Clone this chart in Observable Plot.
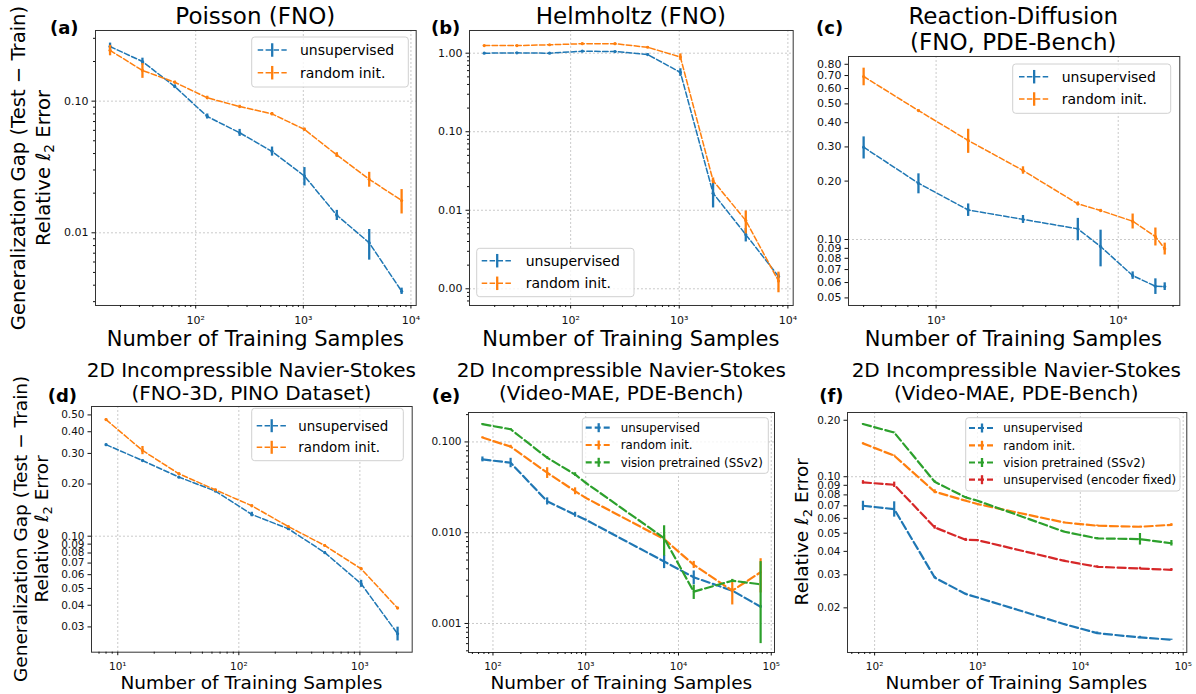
<!DOCTYPE html>
<html><head><meta charset="utf-8">
<script src="https://cdn.jsdelivr.net/npm/d3@7"></script>
<script src="https://cdn.jsdelivr.net/npm/@observablehq/plot@0.6"></script>
<style>
body{margin:0;background:#fff;}
#fig{position:relative;width:1196px;height:694px;overflow:hidden;background:#fff;font-family:"DejaVu Sans",sans-serif;}
</style></head><body><div id="fig"></div>
<script>
// ---------------- data ----------------
const seriesNames = ["unsupervised", "random init.", "vision pretrained (SSv2)", "unsupervised (encoder fixed)"];

// (a) Poisson (FNO)
const poissonN = [16, 32, 64, 128, 256, 512, 1024, 2048, 4096, 8192];
const poissonUnsup = [0.26, 0.20, 0.129, 0.0765, 0.0575, 0.0415, 0.027, 0.0136, 0.0084, 0.0036];
const poissonUnsupErr = [0.016, 0.012, 0.004, 0.0034, 0.0035, 0.0033, 0.0043, 0.0012, 0.0022, 0.0002];
const poissonRand = [0.243, 0.171, 0.139, 0.106, 0.091, 0.080, 0.061, 0.039, 0.0255, 0.0176];
const poissonRandErr = [0.022, 0.022, 0.003, 0.003, 0.002, 0.002, 0.0015, 0.0016, 0.0033, 0.0037];

// (b) Helmholtz (FNO)
const helmN = [16, 32, 64, 128, 256, 512, 1024, 2048, 4096, 8192];
const helmUnsup = [1.00, 1.01, 1.00, 1.06, 1.05, 0.96, 0.57, 0.0165, 0.0049, 0.00144];
const helmUnsupErr = [0.01, 0.01, 0.01, 0.01, 0.01, 0.02, 0.064, 0.0058, 0.00095, 0.0001];
const helmRand = [1.25, 1.25, 1.28, 1.32, 1.32, 1.19, 0.895, 0.0238, 0.0074, 0.00126];
const helmRandErr = [0.01, 0.01, 0.01, 0.02, 0.02, 0.02, 0.085, 0.002, 0.0024, 0.00037];

// (c) Reaction-Diffusion (FNO, PDE-Bench)
const rdN = [400, 800, 1500, 3000, 6000, 8000, 12000, 16000, 18000];
const rdUnsup = [0.299, 0.195, 0.142, 0.127, 0.1135, 0.092, 0.0652, 0.0574, 0.0572];
const rdUnsupErr = [0.039, 0.023, 0.0105, 0.006, 0.015, 0.0197, 0.0029, 0.0053, 0.0026];
const rdRand = [0.692, 0.462, 0.324, 0.227, 0.1527, 0.141, 0.1243, 0.1036, 0.0895];
const rdRandErr = [0.072, 0.005, 0.046, 0.010, 0.0035, 0.002, 0.011, 0.011, 0.0063];

// (d) 2D NS (FNO-3D, PINO Dataset)
const nsPinoN = [8, 16, 32, 64, 128, 256, 512, 1024, 2048];
const nsPinoUnsup = [0.337, 0.273, 0.219, 0.182, 0.1334, 0.1104, 0.0805, 0.0532, 0.0274];
const nsPinoUnsupErr = [0.003, 0.003, 0.002, 0.003, 0.004, 0.002, 0.001, 0.0025, 0.0025];
const nsPinoRand = [0.47, 0.312, 0.229, 0.185, 0.1497, 0.1137, 0.0884, 0.0649, 0.0385];
const nsPinoRandErr = [0.005, 0.017, 0.003, 0.002, 0.002, 0.001, 0.001, 0.001, 0.0005];

// (e) 2D NS (Video-MAE, PDE-Bench), generalization gap
const vmaeN = [77, 155, 384, 768, 1000, 7000, 14600, 38000, 76800];
const gapUnsup = [0.0643, 0.059, 0.0222, 0.0158, 0.0139, 0.00482, 0.00323, 0.0023, 0.00153];
const gapUnsupErr = [0.004, 0.007, 0.002, 0.001, 0.0002, 0.0008, 0.00056, 0.0001, 0.00005];
const gapRand = [0.1117, 0.0888, 0.0458, 0.0287, 0.0242, 0.0085, 0.00443, 0.0023, 0.00367];
const gapRandErr = [0.002, 0.003, 0.0062, 0.0025, 0.0003, 0.0009, 0.0004, 0.0007, 0.0015];
const gapVision = [0.157, 0.138, 0.067, 0.0438, 0.0355, 0.00873, 0.00224, 0.00296, 0.0027];
const gapVisionErr = [0.002, 0.002, 0.002, 0.002, 0.0003, 0.0032, 0.0004, 0.0001, 0.0021];

// (f) 2D NS (Video-MAE, PDE-Bench), relative error
const errUnsup = [0.070, 0.0672, 0.029, 0.0237, 0.0227, 0.01636, 0.01466, 0.0139, 0.01352];
const errUnsupErr = [0.004, 0.0063, 0.0004, 0.0002, 0.0001, 0.0001, 0.0002, 0.0002, 0.0001];
const errRand = [0.1506, 0.1295, 0.0832, 0.0745, 0.0715, 0.057, 0.0548, 0.0541, 0.0554];
const errRandErr = [0.001, 0.001, 0.002, 0.0005, 0.0003, 0.0003, 0.0005, 0.0003, 0.0008];
const errVision = [0.191, 0.172, 0.094, 0.0776, 0.0745, 0.0509, 0.0469, 0.0465, 0.0442];
const errVisionErr = [0.001, 0.001, 0.001, 0.0008, 0.0003, 0.0003, 0.0005, 0.0033, 0.0015];
const errEncFixed = [0.0933, 0.0906, 0.0537, 0.0461, 0.0459, 0.0356, 0.0331, 0.0324, 0.0319];
const errEncFixedErr = [0.002, 0.003, 0.0012, 0.0008, 0.0003, 0.0003, 0.0004, 0.0005, 0.0005];

// tick values
const aXTicks = [100, 1000, 10000], aYTicks = [0.01, 0.1];
const bXTicks = [100, 1000, 10000], bYTicks = [0.001, 0.01, 0.1, 1];
const cXTicks = [1000, 10000], cYTicks = [0.05, 0.06, 0.07, 0.08, 0.09, 0.1, 0.2, 0.3, 0.4, 0.5, 0.6, 0.7, 0.8];
const dXTicks = [10, 100, 1000], dYTicks = [0.03, 0.04, 0.05, 0.06, 0.07, 0.08, 0.09, 0.1, 0.2, 0.3, 0.4, 0.5];
const eXTicks = [100, 1000, 10000, 100000], eYTicks = [0.001, 0.01, 0.1];
const fXTicks = [100, 1000, 10000, 100000], fYTicks = [0.02, 0.03, 0.04, 0.05, 0.06, 0.07, 0.08, 0.09, 0.1, 0.2];

// titles / labels
const titles = ["Poisson (FNO)", "Helmholtz (FNO)", ["Reaction-Diffusion", "(FNO, PDE-Bench)"],
  ["2D Incompressible Navier-Stokes", "(FNO-3D, PINO Dataset)"],
  ["2D Incompressible Navier-Stokes", "(Video-MAE, PDE-Bench)"],
  ["2D Incompressible Navier-Stokes", "(Video-MAE, PDE-Bench)"]];
const panelLetters = ["(a)", "(b)", "(c)", "(d)", "(e)", "(f)"];
const xLabel = "Number of Training Samples";
const yLabelGap = "Generalization Gap (Test \u2212 Train)";

// ---------------- helpers ----------------
const C = {blue: "#1f77b4", orange: "#ff7f0e", green: "#2ca02c", red: "#d62728"};
const sup = {0: "\u2070", 1: "\u00b9", 2: "\u00b2", 3: "\u00b3", 4: "\u2074", 5: "\u2075"};
const supFmt = v => "10" + sup[Math.round(Math.log10(v))];

function minorTicks(domain, majors) {
  const out = [];
  const lo = Math.floor(Math.log10(domain[0])), hi = Math.ceil(Math.log10(domain[1]));
  for (let k = lo; k <= hi; k++) for (let m = 1; m <= 9; m++) {
    const v = m * Math.pow(10, k);
    if (v >= domain[0] && v <= domain[1] && !majors.some(t => Math.abs(t - v) / v < 1e-6)) out.push(v);
  }
  return out;
}

const fig = document.getElementById("fig");

function drawPanel(cfg) {
  const ml = 62, mr = 14, mt = 14, mb = 34;
  const [L, T, R, B] = cfg.box;
  const w = R - L, h = B - T;
  const gridStyle = {stroke: "#b0b0b0", strokeOpacity: 0.85, strokeWidth: 0.8, strokeDasharray: "2,2"};
  const yf = d3.format(cfg.yFmt);
  const marks = [
    Plot.gridX(cfg.xGrid, gridStyle),
    Plot.gridY(cfg.yGrid, gridStyle)
  ];
  for (const s of cfg.series) {
    const rows = cfg.n.map((x, i) => ({x, y: s.y[i], lo: s.y[i] - s.err[i], hi: s.y[i] + s.err[i]}));
    marks.push(Plot.line(rows, {x: "x", y: "y", stroke: s.color, strokeWidth: cfg.lw, strokeDasharray: cfg.dash}));
    marks.push(Plot.ruleX(rows, {x: "x", y1: "lo", y2: "hi", stroke: s.color, strokeWidth: cfg.ew}));
    if (cfg.dots) marks.push(Plot.dot(rows, {x: "x", y: "y", r: 1.6, fill: s.color, stroke: null}));
  }
  marks.push(Plot.frame({stroke: "#333", strokeWidth: 1}));
  marks.push(Plot.axisX(cfg.xTicks, {tickSize: 3.5, tickPadding: cfg.xPad, tickFormat: supFmt, label: null, fontSize: cfg.fs}));
  marks.push(Plot.axisX(minorTicks(cfg.xDomain, cfg.xTicks), {tickSize: 2, tickFormat: () => "", label: null}));
  marks.push(Plot.axisY(cfg.yTicks, {tickSize: 3.5, tickFormat: () => "", label: null}));
  marks.push(Plot.axisY(minorTicks(cfg.yDomain, cfg.yTicks), {tickSize: 2, tickFormat: () => "", label: null}));
  marks.push(Plot.text(cfg.yTicks, {y: d => d, text: d => yf(d), frameAnchor: "left", dx: -7, textAnchor: "end",
    fontSize: cfg.fs, fill: "#111"}));
  const svg = Plot.plot({
    width: w + ml + mr, height: h + mt + mb,
    marginLeft: ml, marginRight: mr, marginTop: mt, marginBottom: mb,
    style: {fontFamily: "'DejaVu Sans', sans-serif", fontSize: cfg.fs + "px", background: "transparent", overflow: "visible", color: "#111"},
    x: {type: "log", domain: cfg.xDomain},
    y: {type: "log", domain: cfg.yDomain},
    marks
  });
  svg.style.position = "absolute";
  svg.style.left = (L - ml) + "px";
  svg.style.top = (T - mt) + "px";
  svg.style.maxWidth = "none";
  fig.appendChild(svg);
}

const top1 = {lw: 1.5, dash: "5.5,2.4", ew: 2.3, dots: true, fs: 11, xPad: 7};
const bot1 = {lw: 1.5, dash: "5.5,2.4", ew: 2.3, dots: true, fs: 10.5, xPad: 7};
const vmae = {lw: 2.2, dash: "8.1,3.5", ew: 2.2, dots: false, fs: 10.5, xPad: 7};

drawPanel({...top1, box: [95, 30, 415.7, 305], n: poissonN,
  xDomain: [11.72, 11190], yDomain: [0.002805, 0.344],
  xTicks: aXTicks, yTicks: aYTicks, xGrid: aXTicks, yGrid: aYTicks, yFmt: ".2f",
  series: [{y: poissonUnsup, err: poissonUnsupErr, color: C.blue}, {y: poissonRand, err: poissonRandErr, color: C.orange}]});

drawPanel({...top1, box: [469, 30, 792.7, 305], n: helmN,
  xDomain: [11.72, 11190], yDomain: [0.000613, 1.945],
  xTicks: bXTicks, yTicks: bYTicks, xGrid: bXTicks, yGrid: bYTicks, yFmt: ".2f",
  series: [{y: helmUnsup, err: helmUnsupErr, color: C.blue}, {y: helmRand, err: helmRandErr, color: C.orange}]});

drawPanel({...top1, box: [847.7, 56, 1179, 305], n: rdN,
  xDomain: [330.4, 21780], yDomain: [0.0457, 0.8775],
  xTicks: cXTicks, yTicks: cYTicks, xGrid: cXTicks, yGrid: [0.1], yFmt: ".2f",
  series: [{y: rdUnsup, err: rdUnsupErr, color: C.blue}, {y: rdRand, err: rdRandErr, color: C.orange}]});

drawPanel({...bot1, box: [91, 406, 411.7, 651.7], n: nsPinoN,
  xDomain: [6.067, 2704], yDomain: [0.02145, 0.5592],
  xTicks: dXTicks, yTicks: dYTicks, xGrid: dXTicks, yGrid: [0.1], yFmt: ".2f",
  series: [{y: nsPinoUnsup, err: nsPinoUnsupErr, color: C.blue}, {y: nsPinoRand, err: nsPinoRandErr, color: C.orange}]});

drawPanel({...vmae, box: [468.3, 411.7, 774.3, 651.7], n: vmaeN,
  xDomain: [54.5, 108400], yDomain: [0.000479, 0.211],
  xTicks: eXTicks, yTicks: eYTicks, xGrid: eXTicks, yGrid: eYTicks, yFmt: ".3f",
  series: [{y: gapUnsup, err: gapUnsupErr, color: C.blue}, {y: gapRand, err: gapRandErr, color: C.orange},
           {y: gapVision, err: gapVisionErr, color: C.green}]});

drawPanel({...vmae, box: [846.7, 411.7, 1186, 651.7], n: vmaeN,
  xDomain: [54.5, 108400], yDomain: [0.01156, 0.220],
  xTicks: fXTicks, yTicks: fYTicks, xGrid: fXTicks, yGrid: [0.1], yFmt: ".2f",
  series: [{y: errUnsup, err: errUnsupErr, color: C.blue}, {y: errRand, err: errRandErr, color: C.orange},
           {y: errVision, err: errVisionErr, color: C.green}, {y: errEncFixed, err: errEncFixedErr, color: C.red}]});

// ---------------- overlay text, legends ----------------
const ov = d3.select(fig).append("svg")
  .attr("width", 1196).attr("height", 694)
  .style("position", "absolute").style("left", "0px").style("top", "0px")
  .style("font-family", "'DejaVu Sans', sans-serif").style("pointer-events", "none");

function txt(x, y, s, size, opts = {}) {
  const t = ov.append("text").attr("x", x).attr("y", y).attr("font-size", size)
    .attr("text-anchor", opts.anchor || "middle").attr("fill", "#000").text(s);
  if (opts.bold) t.attr("font-weight", "bold");
  if (opts.rot) t.attr("transform", `rotate(-90,${x},${y})`);
  return t;
}
function relLabel(x, y, size) {
  const t = ov.append("text").attr("x", x).attr("y", y).attr("font-size", size)
    .attr("text-anchor", "middle").attr("fill", "#000").attr("transform", `rotate(-90,${x},${y})`);
  t.append("tspan").text("Relative ");
  t.append("tspan").attr("font-style", "italic").text("\u2113");
  t.append("tspan").attr("font-size", size * 0.7).attr("dy", size * 0.22).text("2");
  t.append("tspan").attr("dy", -size * 0.22).text(" Error");
}

// titles
txt(255.3, 23.5, titles[0], 23);
txt(630.9, 23.5, titles[1], 23);
txt(1013.3, 24, titles[2][0], 23);
txt(1013.3, 49.5, titles[2][1], 23);
[[251.4, 3], [621.3, 4], [1016.3, 5]].forEach(([cx, i]) => {
  txt(cx, 377, titles[i][0], 20);
  txt(cx, 399.5, titles[i][1], 20);
});
// panel letters
[[50, 34], [431, 34], [816, 34], [47.7, 402], [431.7, 402], [819.3, 402]].forEach(([x, y], i) =>
  txt(x, y, panelLetters[i], 18, {anchor: "start", bold: true}));
// x labels
[255.3, 630.9, 1013.3].forEach(cx => txt(cx, 345.5, xLabel, 21));
[251.4, 621.3, 1016.3].forEach(cx => txt(cx, 688.5, xLabel, 18.5));
// y labels
txt(25, 168, yLabelGap, 19.6, {rot: true});
relLabel(50, 168, 19.6);
txt(26.7, 528.9, yLabelGap, 18.5, {rot: true});
relLabel(48.3, 528.9, 18.5);
relLabel(808.3, 531.7, 18.5);

// legends
function legend(box, entries, sx0, sx1, tx, fs, lw, dash, barH) {
  ov.append("rect").attr("x", box[0]).attr("y", box[1]).attr("width", box[2] - box[0]).attr("height", box[3] - box[1])
    .attr("rx", 3).attr("fill", "#fff").attr("fill-opacity", 0.8).attr("stroke", "#d0d0d0").attr("stroke-width", 1);
  entries.forEach(e => {
    ov.append("line").attr("x1", sx0).attr("x2", sx1).attr("y1", e.cy).attr("y2", e.cy)
      .attr("stroke", e.color).attr("stroke-width", lw).attr("stroke-dasharray", dash);
    const mx = (sx0 + sx1) / 2;
    ov.append("line").attr("x1", mx).attr("x2", mx).attr("y1", e.cy - barH / 2).attr("y2", e.cy + barH / 2)
      .attr("stroke", e.color).attr("stroke-width", 2.3);
    txt(tx, e.cy + fs * 0.36, e.name, fs, {anchor: "start"});
  });
}
const two = (a, b) => [{name: seriesNames[0], color: C.blue, cy: a}, {name: seriesNames[1], color: C.orange, cy: b}];
legend([251.7, 37, 408.3, 87], two(50, 72.7), 257.7, 286.7, 300, 14, 1.5, "5.5,2.4", 13.5);
legend([476.7, 248.3, 634, 296.7], two(260.7, 283.3), 481.7, 512.7, 525.7, 14, 1.5, "5.5,2.4", 13.5);
legend([1012.7, 64, 1170.7, 113.3], two(76.7, 99), 1019, 1049.3, 1061.7, 14, 1.5, "5.5,2.4", 13.5);
legend([251.7, 408.3, 403.3, 460.7], two(425.7, 447.3), 256.7, 286.7, 298.3, 13.4, 1.5, "5.5,2.4", 13);
legend([582.3, 417.7, 768.3, 473.3], [
  {name: seriesNames[0], color: C.blue, cy: 427.7},
  {name: seriesNames[1], color: C.orange, cy: 445},
  {name: seriesNames[2], color: C.green, cy: 462.3}], 585.7, 611.7, 620.7, 11.8, 2.2, "6,3", 9);
legend([965.7, 417.7, 1180, 491], [
  {name: seriesNames[0], color: C.blue, cy: 428},
  {name: seriesNames[1], color: C.orange, cy: 445.3},
  {name: seriesNames[2], color: C.green, cy: 462.5},
  {name: seriesNames[3], color: C.red, cy: 479.7}], 969, 995, 1003.3, 11.8, 2.2, "6,3", 9);
</script></body></html>
